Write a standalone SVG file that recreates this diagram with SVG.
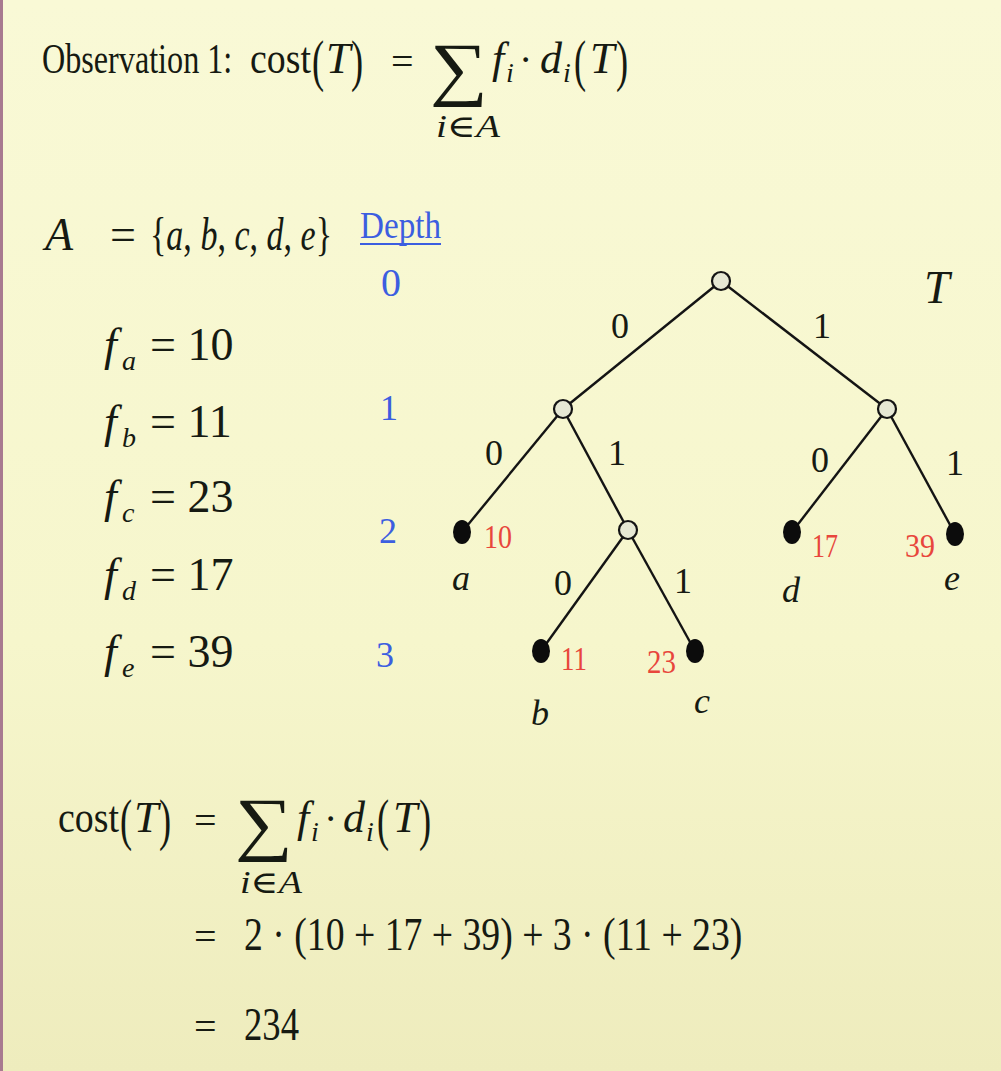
<svg xmlns="http://www.w3.org/2000/svg" width="1001" height="1071" viewBox="0 0 1001 1071">
<defs>
<linearGradient id="bg" x1="0" y1="0" x2="0" y2="1">
<stop offset="0" stop-color="#f9f9d6"/>
<stop offset="0.6" stop-color="#f6f6cc"/>
<stop offset="1" stop-color="#eeecbd"/>
</linearGradient>
<style>
.m{font-family:"Liberation Serif","DejaVu Serif",serif;fill:#161a12}
.i{font-style:italic}
.sub{font-size:28px;font-style:italic}
.par{font-size:56px}
.red{font-family:"Liberation Serif",serif;fill:#e8463c}
.blue{font-family:"Liberation Serif",serif;fill:#3c5ee0}
.edge{stroke:#141414;stroke-width:2.4;fill:none}
.open{fill:#e6e8d4;stroke:#141414;stroke-width:2.2}
.leaf{fill:#0c0c0c}
</style>
</defs>
<rect width="1001" height="1071" fill="url(#bg)"/>
<rect x="0" y="0" width="3" height="1071" fill="#a87a90"/>

<g id="observation">
<text class="m" font-size="42" transform="translate(42 73) scale(0.766 1)">Observation 1:</text>
<text class="m" font-size="44" transform="translate(250 73) scale(0.86 1)">cost</text>
<text class="m par" transform="translate(312 80) scale(0.65 1)">(</text>
<text class="m i" x="326" y="73" font-size="44">T</text>
<text class="m par" transform="translate(351 80) scale(0.65 1)">)</text>
<text class="m" x="391" y="75" font-size="40">=</text>
<text class="m" x="430" y="92" font-size="71" textLength="58" lengthAdjust="spacingAndGlyphs">∑</text>
<text class="m i" x="492" y="73" font-size="44">f</text>
<text class="m sub" x="506" y="82">i</text>
<text class="m" x="519" y="73" font-size="40">·</text>
<text class="m i" x="540" y="73" font-size="44">d</text>
<text class="m sub" x="563" y="82">i</text>
<text class="m par" transform="translate(574 80) scale(0.65 1)">(</text>
<text class="m i" x="590" y="73" font-size="44">T</text>
<text class="m par" transform="translate(616 80) scale(0.65 1)">)</text>
<text class="m i" x="436" y="137" font-size="31" textLength="64" lengthAdjust="spacingAndGlyphs">i∈A</text>
</g>

<g id="set-and-frequencies">
<text class="m i" x="45" y="250" font-size="46">A</text>
<text class="m" x="110" y="250" font-size="46">=</text>
<text class="m" font-size="46" transform="translate(150 250) scale(0.74 1)">{<tspan class="i">a</tspan>, <tspan class="i">b</tspan>, <tspan class="i">c</tspan>, <tspan class="i">d</tspan>, <tspan class="i">e</tspan>}</text>
<text class="m i" x="104" y="360" font-size="46">f</text><text class="m sub" x="122" y="370">a</text><text class="m" x="150" y="360" font-size="46">= 10</text>
<text class="m i" x="104" y="437" font-size="46">f</text><text class="m sub" x="122" y="447">b</text><text class="m" x="150" y="437" font-size="46">= 11</text>
<text class="m i" x="104" y="512" font-size="46">f</text><text class="m sub" x="122" y="522">c</text><text class="m" x="150" y="512" font-size="46">= 23</text>
<text class="m i" x="104" y="590" font-size="46">f</text><text class="m sub" x="122" y="600">d</text><text class="m" x="150" y="590" font-size="46">= 17</text>
<text class="m i" x="104" y="667" font-size="46">f</text><text class="m sub" x="122" y="677">e</text><text class="m" x="150" y="667" font-size="46">= 39</text>
</g>

<g id="depth-column">
<text class="blue" x="360" y="238" font-size="38" textLength="81" lengthAdjust="spacingAndGlyphs">Depth</text>
<line x1="360" y1="244" x2="441" y2="244" stroke="#3c5ee0" stroke-width="2"/>
<text class="blue" x="391" y="296" font-size="40" text-anchor="middle">0</text>
<text class="blue" x="389" y="420" font-size="36" text-anchor="middle">1</text>
<text class="blue" x="388" y="543" font-size="36" text-anchor="middle">2</text>
<text class="blue" x="385" y="667" font-size="36" text-anchor="middle">3</text>
</g>

<g id="connectors">
<line class="edge" x1="721" y1="281" x2="563" y2="409"/>
<line class="edge" x1="721" y1="281" x2="887" y2="409"/>
<line class="edge" x1="563" y1="409" x2="462" y2="532"/>
<line class="edge" x1="563" y1="409" x2="628" y2="530"/>
<line class="edge" x1="887" y1="409" x2="792" y2="532"/>
<line class="edge" x1="887" y1="409" x2="955" y2="534"/>
<line class="edge" x1="628" y1="530" x2="541" y2="651"/>
<line class="edge" x1="628" y1="530" x2="695" y2="651"/>
<g class="m" font-size="36" text-anchor="middle">
<text x="620" y="338">0</text>
<text x="822" y="338">1</text>
<text x="494" y="465">0</text>
<text x="617" y="465">1</text>
<text x="820" y="472">0</text>
<text x="955" y="475">1</text>
<text x="563" y="595">0</text>
<text x="683" y="593">1</text>
</g>
</g>

<g id="node-root"><circle class="open" cx="721" cy="281" r="9"/></g>
<g id="node-left"><circle class="open" cx="563" cy="409" r="9"/></g>
<g id="node-right"><circle class="open" cx="887" cy="409" r="9"/></g>
<g id="node-mid"><circle class="open" cx="628" cy="530" r="9"/></g>
<g id="leaf-a"><ellipse class="leaf" cx="462" cy="532" rx="9" ry="12"/>
<text class="red" x="484" y="548" font-size="34" textLength="28" lengthAdjust="spacingAndGlyphs">10</text>
<text class="m i" x="452" y="590" font-size="36">a</text></g>
<g id="leaf-b"><ellipse class="leaf" cx="541" cy="651" rx="9" ry="12"/>
<text class="red" x="561" y="670" font-size="34" textLength="26" lengthAdjust="spacingAndGlyphs">11</text>
<text class="m i" x="531" y="725" font-size="36">b</text></g>
<g id="leaf-c"><ellipse class="leaf" cx="695" cy="651" rx="9" ry="12"/>
<text class="red" x="647" y="673" font-size="34" textLength="29" lengthAdjust="spacingAndGlyphs">23</text>
<text class="m i" x="694" y="713" font-size="36">c</text></g>
<g id="leaf-d"><ellipse class="leaf" cx="792" cy="532" rx="9" ry="12"/>
<text class="red" x="812" y="557" font-size="34" textLength="26" lengthAdjust="spacingAndGlyphs">17</text>
<text class="m i" x="782" y="602" font-size="36">d</text></g>
<g id="leaf-e"><ellipse class="leaf" cx="955" cy="534" rx="9" ry="12"/>
<text class="red" x="905" y="557" font-size="34" textLength="30" lengthAdjust="spacingAndGlyphs">39</text>
<text class="m i" x="944" y="590" font-size="36">e</text></g>
<g id="tree-label"><text class="m i" x="924" y="303" font-size="46">T</text></g>

<g id="cost-derivation">
<text class="m" font-size="44" transform="translate(58 832) scale(0.86 1)">cost</text>
<text class="m par" transform="translate(120 839) scale(0.65 1)">(</text>
<text class="m i" x="134" y="832" font-size="44">T</text>
<text class="m par" transform="translate(159 839) scale(0.65 1)">)</text>
<text class="m" x="194" y="834" font-size="40">=</text>
<text class="m" x="235" y="847" font-size="71" textLength="58" lengthAdjust="spacingAndGlyphs">∑</text>
<text class="m i" x="297" y="832" font-size="44">f</text>
<text class="m sub" x="311" y="841">i</text>
<text class="m" x="324" y="832" font-size="40">·</text>
<text class="m i" x="343" y="832" font-size="44">d</text>
<text class="m sub" x="366" y="841">i</text>
<text class="m par" transform="translate(377 839) scale(0.65 1)">(</text>
<text class="m i" x="393" y="832" font-size="44">T</text>
<text class="m par" transform="translate(419 839) scale(0.65 1)">)</text>
<text class="m i" x="240" y="893" font-size="31" textLength="62" lengthAdjust="spacingAndGlyphs">i∈A</text>
<text class="m" x="194" y="950" font-size="40">=</text>
<text class="m" font-size="46" transform="translate(244 950) scale(0.82 1)">2 · (10 + 17 + 39) + 3 · (11 + 23)</text>
<text class="m" x="194" y="1040" font-size="40">=</text>
<text class="m" x="244" y="1040" font-size="46" textLength="55" lengthAdjust="spacingAndGlyphs">234</text>
</g>
</svg>
